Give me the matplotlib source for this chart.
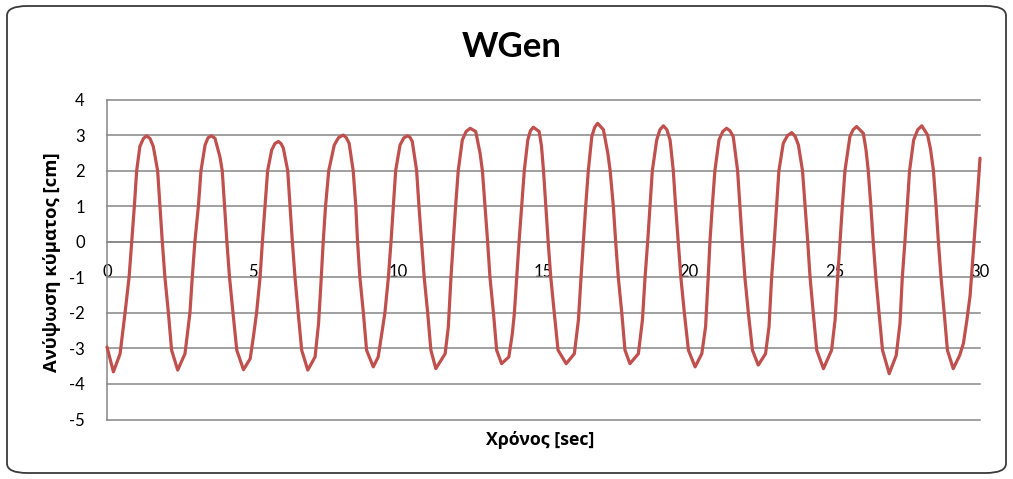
import matplotlib
matplotlib.use("Agg")
import matplotlib.pyplot as plt
from matplotlib.patches import FancyBboxPatch

plt.rcParams["axes.unicode_minus"] = False

# ---- data ----
time_sec = [
    0.00, 0.22, 0.45, 0.62, 0.76, 0.85, 0.94, 1.02, 1.13, 1.25, 1.36, 1.48, 1.59, 1.74, 1.82, 1.90, 1.99, 2.11, 2.22,
    2.43, 2.68, 2.85, 2.93, 3.02, 3.14, 3.23, 3.37, 3.47, 3.58, 3.71, 3.88, 3.96, 4.04, 4.12, 4.21, 4.33, 4.46,
    4.69, 4.92, 5.03, 5.14, 5.26, 5.34, 5.43, 5.52, 5.66, 5.77, 5.89, 5.98, 6.06, 6.21, 6.29, 6.37, 6.46, 6.57, 6.69,
    6.90, 7.15, 7.27, 7.35, 7.43, 7.51, 7.62, 7.81, 7.96, 8.12, 8.22, 8.32, 8.46, 8.55, 8.61, 8.69, 8.81, 8.92,
    9.15, 9.32, 9.46, 9.55, 9.67, 9.76, 9.84, 9.92, 10.07, 10.20, 10.33, 10.41, 10.49, 10.64, 10.72, 10.81, 10.90, 11.02, 11.13,
    11.30, 11.62, 11.73, 11.82, 11.90, 11.98, 12.07, 12.21, 12.34, 12.48, 12.67, 12.82, 12.90, 12.99, 13.08, 13.16, 13.28, 13.39,
    13.56, 13.81, 13.93, 14.00, 14.08, 14.16, 14.25, 14.34, 14.46, 14.55, 14.65, 14.85, 14.93, 15.00, 15.08, 15.16, 15.25, 15.37, 15.50,
    15.78, 16.06, 16.20, 16.29, 16.37, 16.45, 16.54, 16.66, 16.76, 16.86, 17.06, 17.21, 17.29, 17.40, 17.48, 17.57, 17.69, 17.80,
    17.97, 18.26, 18.40, 18.49, 18.58, 18.66, 18.74, 18.89, 19.00, 19.12, 19.24, 19.35, 19.46, 19.54, 19.63, 19.72, 19.84, 19.98,
    20.21, 20.44, 20.57, 20.66, 20.72, 20.80, 20.89, 21.03, 21.16, 21.29, 21.41, 21.52, 21.67, 21.75, 21.83, 21.92, 22.04, 22.18,
    22.38, 22.63, 22.75, 22.84, 22.93, 23.01, 23.09, 23.24, 23.38, 23.53, 23.65, 23.76, 23.90, 23.99, 24.08, 24.16, 24.27, 24.39,
    24.62, 24.90, 25.02, 25.11, 25.19, 25.27, 25.36, 25.53, 25.64, 25.76, 25.99, 26.08, 26.16, 26.25, 26.33, 26.42, 26.53, 26.65,
    26.88, 27.12, 27.25, 27.33, 27.42, 27.50, 27.58, 27.72, 27.86, 28.00, 28.20, 28.30, 28.40, 28.49, 28.57, 28.66, 28.77, 28.88,
    29.08, 29.30, 29.43, 29.55, 29.66, 29.75, 29.85, 29.93, 30.00,
]
wave_cm = [
    -2.96, -3.66, -3.15, -2.0, -0.99, 0.0, 1.0, 2.0, 2.68, 2.90, 2.98, 2.90, 2.68, 2.0, 1.0, 0.0, -1.0, -2.0, -3.05,
    -3.61, -3.15, -2.0, -1.0, 0.0, 1.0, 2.0, 2.72, 2.92, 2.98, 2.91, 2.39, 2.0, 1.0, 0.0, -1.0, -2.0, -3.05,
    -3.60, -3.29, -2.68, -2.0, -1.0, 0.0, 1.0, 2.0, 2.58, 2.76, 2.82, 2.76, 2.63, 2.0, 1.0, 0.0, -1.0, -2.0, -3.05,
    -3.61, -3.24, -2.3, -1.2, 0.0, 1.0, 2.0, 2.72, 2.93, 3.0, 2.93, 2.77, 2.0, 1.0, 0.0, -1.0, -2.0, -3.05,
    -3.52, -3.24, -2.49, -2.0, -1.0, 0.0, 1.0, 2.0, 2.72, 2.92, 2.98, 2.94, 2.82, 2.0, 1.0, 0.0, -1.0, -2.0, -3.05,
    -3.57, -3.15, -2.39, -1.0, 0.0, 1.0, 2.0, 2.86, 3.10, 3.19, 3.10, 2.49, 2.0, 1.0, 0.0, -1.0, -2.0, -3.05,
    -3.43, -3.24, -2.58, -2.0, -1.0, 0.0, 1.0, 2.0, 2.86, 3.12, 3.22, 3.10, 2.70, 2.0, 1.0, 0.0, -1.0, -2.0, -3.05,
    -3.43, -3.15, -2.2, -1.0, 0.0, 1.0, 2.0, 2.96, 3.22, 3.33, 3.15, 2.49, 2.0, 1.0, 0.0, -1.0, -2.0, -3.05,
    -3.43, -3.15, -2.2, -1.0, 0.0, 1.0, 2.0, 2.86, 3.15, 3.26, 3.15, 2.86, 2.0, 1.0, 0.0, -1.0, -2.0, -3.05,
    -3.52, -3.15, -2.39, -1.0, 0.0, 1.0, 2.0, 2.86, 3.10, 3.19, 3.12, 2.96, 2.0, 1.0, 0.0, -1.0, -2.0, -3.05,
    -3.47, -3.15, -2.39, -1.0, 0.0, 1.0, 2.0, 2.77, 2.98, 3.07, 2.96, 2.72, 2.0, 1.0, 0.0, -1.0, -2.0, -3.05,
    -3.57, -3.05, -2.2, -1.0, 0.0, 1.0, 2.0, 2.96, 3.15, 3.24, 3.05, 2.60, 2.0, 1.0, 0.0, -1.0, -2.0, -3.05,
    -3.71, -3.2, -2.3, -1.0, 0.0, 1.0, 2.0, 2.86, 3.15, 3.26, 3.0, 2.60, 2.0, 1.0, 0.0, -1.0, -2.0, -3.05,
    -3.57, -3.2, -2.86, -2.2, -1.51, -0.5, 0.6, 1.5, 2.35,
]
x_ticks = [0, 5, 10, 15, 20, 25, 30]
y_ticks = [-5, -4, -3, -2, -1, 0, 1, 2, 3, 4]

title = "WGen"
x_label = "Χρόνος [sec]"
y_label = "Ανύψωση κύματος [cm]"

# ---- figure ----
W, H = 1013, 479
fig = plt.figure(figsize=(W / 100, H / 100), dpi=100)
fig.patch.set_facecolor("white")

# rounded chart border
border = FancyBboxPatch((7 / W, 6 / H), (W - 14) / W, (H - 12) / H,
                        boxstyle="round,pad=0,rounding_size=0.02",
                        transform=fig.transFigure, facecolor="white",
                        edgecolor="#3a3a3a", linewidth=1.3, zorder=-5)
fig.patches.append(border)

left, right = 107 / W, 980 / W
top, bottom = 1 - 99.5 / H, 1 - 419.5 / H
ax = fig.add_axes([left, bottom, right - left, top - bottom])
ax.set_zorder(2)
ax.set_facecolor("none")

grid_c = "#868686"
ax.set_xlim(x_ticks[0], x_ticks[-1])
ax.set_ylim(y_ticks[0], y_ticks[-1])
ax.set_yticks(y_ticks)
ax.set_xticks(x_ticks)
ax.yaxis.grid(True, color=grid_c, linewidth=1.1)
ax.set_axisbelow(True)
for gl in ax.yaxis.get_gridlines():
    gl.set_clip_on(False)

for s in ["top", "right"]:
    ax.spines[s].set_visible(False)
ax.spines["left"].set_color(grid_c)
ax.spines["left"].set_linewidth(1.1)
ax.spines["bottom"].set_position(("data", 0))
ax.spines["bottom"].set_color(grid_c)
ax.spines["bottom"].set_linewidth(1.1)

ax.tick_params(axis="both", length=0, labelsize=12, colors="black")
ax.tick_params(axis="y", pad=16)
ax.tick_params(axis="x", pad=16)
for lab in ax.get_xticklabels() + ax.get_yticklabels():
    lab.set_fontfamily(["Lato", "DejaVu Sans"])

ax.plot(time_sec, wave_cm, color="#C0504D", linewidth=2.3,
        solid_joinstyle="round", solid_capstyle="round", zorder=3, clip_on=False)

fig.text(512 / W, 1 - 47 / H, title, ha="center", va="center",
         fontsize=25, fontweight="bold", family=["Lato", "DejaVu Sans"])
fig.text(540 / W, 1 - 440 / H, x_label, ha="center", va="center",
         fontsize=12.8, fontweight="bold", family=["Open Sans", "DejaVu Sans"])
fig.text(52 / W, 1 - 262 / H, y_label, ha="center", va="center", rotation=90,
         fontsize=13.3, fontweight="bold", family=["Open Sans", "DejaVu Sans"])

fig.savefig("out.png", dpi=100, facecolor="white")
